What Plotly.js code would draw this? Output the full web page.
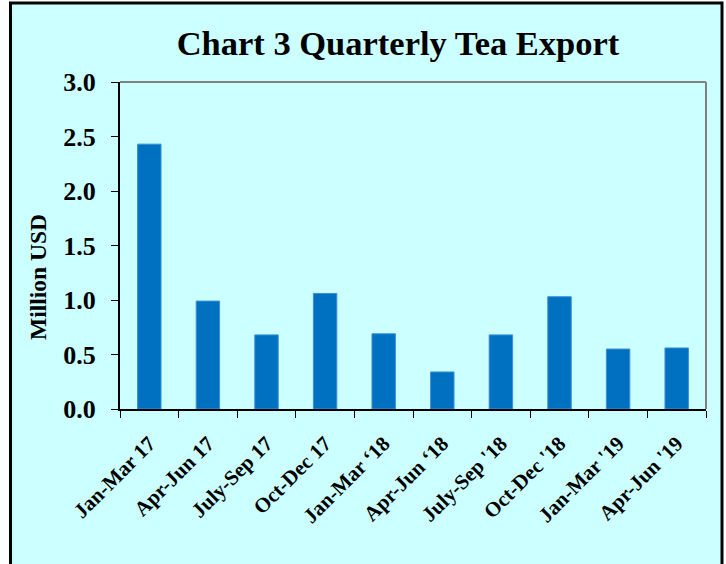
<!DOCTYPE html>
<html>
<head>
<meta charset="utf-8">
<script src="https://cdn.plot.ly/plotly-3.0.1.min.js"></script>
<style>
html, body { margin: 0; padding: 0; background: #ffffff; }
#chart { width: 726px; height: 564px; }
</style>
</head>
<body>
<div id="chart"></div>
<script>
const quarters = ["Jan-Mar 17", "Apr-Jun 17", "July-Sep 17", "Oct-Dec 17", "Jan-Mar \u201818", "Apr-Jun \u201818", "July-Sep '18", "Oct-Dec '18", "Jan-Mar '19", "Apr-Jun '19"];
const exportValues = [2.43, 0.99, 0.68, 1.06, 0.69, 0.34, 0.68, 1.03, 0.55, 0.56];
const yTickValues = [0, 0.5, 1.0, 1.5, 2.0, 2.5, 3.0];
const yAxisTitle = 'Million USD';
const chartTitle = 'Chart 3 Quarterly Tea Export';

const serif = '"Liberation Serif", "Times New Roman", serif';

const trace = {
  type: 'bar',
  x: quarters,
  y: exportValues,
  marker: { color: '#0070C0', line: { color: '#3d8fd6', width: 1 } },
  hoverinfo: 'x+y'
};

// pixel geometry of plot area
const L = 120, R = 20, T = 82, B = 155, W = 726, H = 564;
const pw = W - L - R, ph = H - T - B;
const px = v => (v - L) / pw;
const py = v => (H - B - v) / ph;

const layout = {
  width: W, height: H,
  margin: { l: L, r: R, t: T, b: B, pad: 0 },
  paper_bgcolor: '#ffffff',
  plot_bgcolor: '#ffffff',
  showlegend: false,
  bargap: 0.6,
  font: { family: serif, color: '#000000' },
  title: {
    text: '<b>' + chartTitle + '</b>',
    font: { family: serif, size: 34.5, color: '#000000' },
    xref: 'container', yref: 'container',
    x: 398 / W, y: 1 - 43 / H,
    xanchor: 'center', yanchor: 'middle'
  },
  xaxis: {
    type: 'category',
    showline: true, linecolor: '#000000', linewidth: 2,
    ticks: 'outside', tickson: 'boundaries', ticklen: 7, tickcolor: '#000000', tickwidth: 1,
    tickangle: -45,
    ticklabelstandoff: 12,
    tickfont: { family: serif, size: 21, color: '#000000', weight: 'bold' },
    showgrid: false, zeroline: false, fixedrange: true
  },
  yaxis: {
    range: [0, 3],
    tickvals: yTickValues,
    tickformat: '.1f',
    showline: true, linecolor: '#000000', linewidth: 2,
    ticks: 'outside', ticklen: 7, tickcolor: '#000000', tickwidth: 1,
    ticklabelstandoff: 10,
    tickfont: { family: serif, size: 26, color: '#000000', weight: 'bold' },
    showgrid: false, zeroline: false, fixedrange: true
  },
  annotations: [
    {
      text: '<b>' + yAxisTitle + '</b>',
      xref: 'paper', yref: 'paper',
      x: px(38), y: py(277),
      xanchor: 'center', yanchor: 'middle',
      textangle: -90, showarrow: false,
      font: { family: serif, size: 23.5, color: '#000000' }
    }
  ],
  shapes: [
    {
      type: 'rect', xref: 'paper', yref: 'paper', layer: 'below',
      x0: px(10.5), x1: px(722), y0: py(600), y1: py(3),
      fillcolor: '#CCFFFF', line: { color: '#000000', width: 3 }
    },
    {
      type: 'line', xref: 'paper', yref: 'paper', layer: 'above',
      x0: 0, x1: 1, y0: 1, y1: 1, line: { color: '#808080', width: 2 }
    },
    {
      type: 'line', xref: 'paper', yref: 'paper', layer: 'above',
      x0: 1, x1: 1, y0: 0, y1: 1, line: { color: '#808080', width: 2 }
    }
  ]
};

Plotly.newPlot('chart', [trace], layout, { displayModeBar: false, staticPlot: true });
</script>
</body>
</html>
